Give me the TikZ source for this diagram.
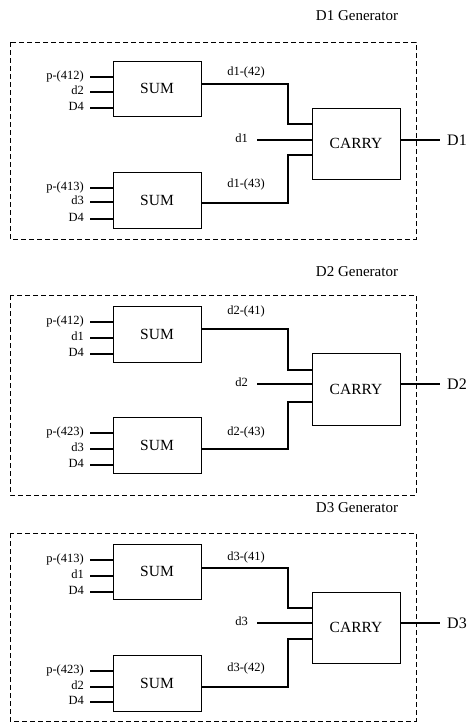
\documentclass[tikz,border=0pt]{standalone}
\usepackage{fontspec}
\setmainfont{Liberation Serif}
\tikzset{
  blk/.style={draw,line width=0.8pt,minimum width=88pt,inner sep=0pt,font=\fontsize{15.5}{17}\selectfont},
  wire/.style={line width=1.1pt},
  frame/.style={draw,line width=0.8pt,dash pattern=on 5pt off 3pt},
  lbl/.style={inner sep=0pt,font=\fontsize{12.5}{14}\selectfont,text height=0.72em,text depth=0.2em},
  ttl/.style={inner sep=0pt,font=\fontsize{15}{17}\selectfont},
  outl/.style={inner sep=0pt,font=\fontsize{16}{18}\selectfont},
}
\newcommand\inp[4]{%
  \node[lbl,anchor=east] (#4l) at (84,#1) {#2};
  \coordinate (#4) at (90,#1);
  \draw[wire] (#4) -- (#4 -| #3.west);}
\begin{document}
\begin{tikzpicture}[x=1pt,y=-1pt]
\useasboundingbox (0,0) rectangle (470,723);
% ---------- D1 ----------
\node[ttl] (t1) at (357,16) {D1 Generator};
\draw[frame] (10,42) rectangle (416,239);
\node[blk,minimum height=55pt] (s1a) at (157,88.5) {SUM};
\node[blk,minimum height=56pt] (s1b) at (157,200) {SUM};
\node[blk,minimum height=71pt] (c1) at (356,143.5) {CARRY};
\inp{77}{p-(412)}{s1a}{a1}
\inp{92}{d2}{s1a}{a2}
\inp{108}{D4}{s1a}{a3}
\inp{188}{p-(413)}{s1b}{b1}
\inp{202}{d3}{s1b}{b2}
\inp{219}{D4}{s1b}{b3}
\draw[wire] ([yshift=4.5pt]s1a.east) -| (288,124) -- (312,124);
\draw[wire] ([yshift=-3pt]s1b.east) -| (288,155) -- (312,155);
\node[lbl] (w1a) at (246,73) {d1-(42)};
\node[lbl] (w1b) at (246,185) {d1-(43)};
\node[lbl,anchor=east] (m1l) at (248,140) {d1};
\coordinate (m1) at (257,140);
\draw[wire] (m1) -- (m1 -| c1.west);
\coordinate (o1) at (440,140);
\draw[wire] (c1.east |- o1) -- (o1);
\node[outl,anchor=west] (D1) at (447,140) {D1};
% ---------- D2 ----------
\node[ttl] (t2) at (357,272) {D2 Generator};
\draw[frame] (10,295) rectangle (416,495);
\node[blk,minimum height=56pt] (s2a) at (157,334) {SUM};
\node[blk,minimum height=56pt] (s2b) at (157,445) {SUM};
\node[blk,minimum height=72pt] (c2) at (356,389) {CARRY};
\inp{322}{p-(412)}{s2a}{c21}
\inp{338}{d1}{s2a}{c22}
\inp{354}{D4}{s2a}{c23}
\inp{433}{p-(423)}{s2b}{d21}
\inp{449}{d3}{s2b}{d22}
\inp{465}{D4}{s2b}{d23}
\draw[wire] ([yshift=5pt]s2a.east) -| (288,370) -- (312,370);
\draw[wire] ([yshift=-4pt]s2b.east) -| (288,402) -- (312,402);
\node[lbl] (w2a) at (246,312) {d2-(41)};
\node[lbl] (w2b) at (246,433) {d2-(43)};
\node[lbl,anchor=east] (m2l) at (248,384) {d2};
\coordinate (m2) at (257,384);
\draw[wire] (m2) -- (m2 -| c2.west);
\coordinate (o2) at (440,384);
\draw[wire] (c2.east |- o2) -- (o2);
\node[outl,anchor=west] (D2) at (447,384) {D2};
% ---------- D3 ----------
\node[ttl] (t3) at (357,508) {D3 Generator};
\draw[frame] (10,533) rectangle (416,721);
\node[blk,minimum height=55pt] (s3a) at (157,571.5) {SUM};
\node[blk,minimum height=56pt] (s3b) at (157,683) {SUM};
\node[blk,minimum height=71pt] (c3) at (356,627.5) {CARRY};
\inp{560}{p-(413)}{s3a}{e31}
\inp{576}{d1}{s3a}{e32}
\inp{592}{D4}{s3a}{e33}
\inp{671}{p-(423)}{s3b}{f31}
\inp{687}{d2}{s3b}{f32}
\inp{702}{D4}{s3b}{f33}
\draw[wire] ([yshift=3.5pt]s3a.east) -| (288,608) -- (312,608);
\draw[wire] ([yshift=-4pt]s3b.east) -| (288,639) -- (312,639);
\node[lbl] (w3a) at (246,558) {d3-(41)};
\node[lbl] (w3b) at (246,669) {d3-(42)};
\node[lbl,anchor=east] (m3l) at (248,623) {d3};
\coordinate (m3) at (257,623);
\draw[wire] (m3) -- (m3 -| c3.west);
\coordinate (o3) at (440,623);
\draw[wire] (c3.east |- o3) -- (o3);
\node[outl,anchor=west] (D3) at (447,623) {D3};
\end{tikzpicture}
\end{document}
